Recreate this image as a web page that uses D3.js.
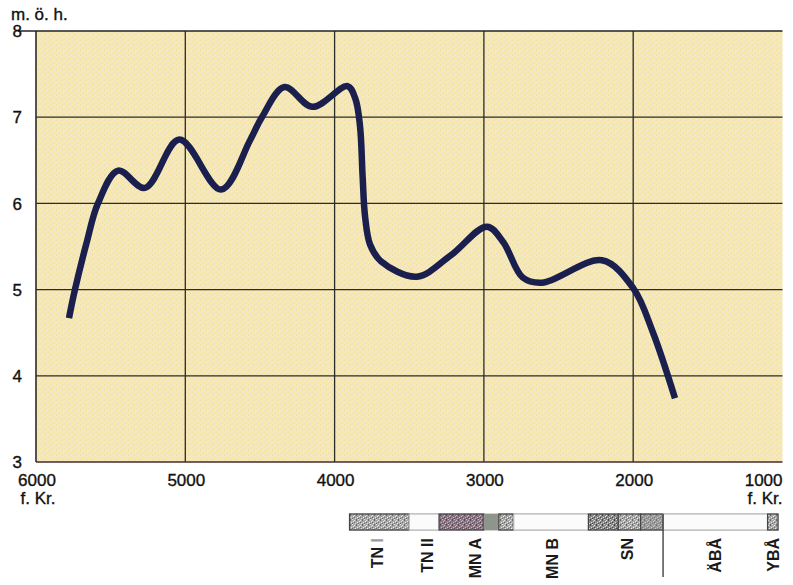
<!DOCTYPE html>
<html>
<head>
<meta charset="utf-8">
<script src="https://cdn.jsdelivr.net/npm/d3@7"></script>
<style>
  html, body { margin: 0; padding: 0; background: #ffffff; }
  svg { display: block; font-family: "Liberation Sans", Arial, sans-serif; }
</style>
</head>
<body>
<svg id="chart" width="793" height="585"></svg>
<script>
// ---- data ----
const years  = [5779, 5739, 5660, 5585, 5450, 5270, 5040, 4760, 4567, 4487, 4336, 4148, 3914, 3862, 3830, 3812, 3796, 3762, 3690, 3450, 3220, 2979, 2870, 2740, 2611, 2209, 2001, 1867, 1720];
const levels = [4.67, 5.00, 5.55, 6.00, 6.38, 6.18, 6.74, 6.16, 6.73, 7.00, 7.35, 7.12, 7.36, 7.22, 6.90, 6.30, 5.85, 5.52, 5.33, 5.15, 5.40, 5.73, 5.55, 5.14, 5.08, 5.34, 5.02, 4.50, 3.74];

const xTicks = [6000, 5000, 4000, 3000, 2000, 1000];
const yTicks = [3, 4, 5, 6, 7, 8];
const yUnit = "m. ö. h.";
const xUnit = "f. Kr.";

// period strip: segment starts / ends (years BC) and kind
const segStart = [3900, 3500, 3300, 3000, 2900, 2800, 2300, 2100, 1950, 1800, 1100];
const segEnd   = [3500, 3300, 3000, 2900, 2800, 2300, 2100, 1950, 1800, 1100, 1030];
const segKind  = ["grey", "white", "purple", "blur", "grey", "white", "dark", "grey", "mid", "white", "grey"];

const periodNames = ["TN I", "TN II", "MN A", "MN B", "SN", "ÄBÅ", "YBÅ"];
const periodPos   = [3716, 3381, 3060, 2544, 2042, 1452, 1064];
const periodDivider = 1800;

// ---- drawing ----
const svg = d3.select("#chart");
const x = d3.scaleLinear().domain([6000, 1000]).range([36, 782.5]);
const y = d3.scaleLinear().domain([3, 8]).range([462, 31]);

const defs = svg.append("defs");
function speckle(id, base, light, dark) {
  const p = defs.append("pattern").attr("id", id)
    .attr("patternUnits", "userSpaceOnUse").attr("width", 6).attr("height", 5);
  p.append("rect").attr("width", 6).attr("height", 5).attr("fill", base);
  [[0,0],[3,2],[1,3],[4,4],[5,1]].forEach(d =>
    p.append("rect").attr("x", d[0]).attr("y", d[1]).attr("width", 1).attr("height", 1).attr("fill", light));
  [[2,0],[0,2],[4,3],[2,4]].forEach(d =>
    p.append("rect").attr("x", d[0]).attr("y", d[1]).attr("width", 1).attr("height", 1).attr("fill", dark));
}
speckle("pgrey", "#a8a8a8", "#e6e6e6", "#6a6a6a");
speckle("ppurple", "#8c7585", "#c9b8c3", "#5a4a56");
speckle("pdark", "#8a8a8a", "#dcdcdc", "#444");
speckle("pmid", "#9a9a9a", "#c4c4c4", "#777");
speckle("pbg", "#f4eabd", "#f6ddcc", "#efe197");

const kindFill = {grey: "url(#pgrey)", white: "#fbfbfb", purple: "url(#ppurple)", blur: "#8e958b", dark: "url(#pdark)", mid: "url(#pmid)"};

// plot background
svg.append("rect")
  .attr("x", x(6000)).attr("y", y(8))
  .attr("width", x(1000) - x(6000)).attr("height", y(3) - y(8))
  .attr("fill", "url(#pbg)");

// grid
svg.append("g").selectAll("line").data(xTicks.filter(d => d !== 1000)).join("line")
  .attr("x1", d => x(d)).attr("x2", d => x(d))
  .attr("y1", y(8)).attr("y2", y(3))
  .attr("stroke", "#2b2b2b").attr("stroke-width", d => d === 6000 ? 1.6 : 1.3);
svg.append("g").selectAll("line").data(yTicks.filter(d => d !== 3 && d !== 8)).join("line")
  .attr("x1", x(6000)).attr("x2", x(1000))
  .attr("y1", d => y(d)).attr("y2", d => y(d))
  .attr("stroke", "#2b2b2b").attr("stroke-width", 1.3);
// top border extends to the label
svg.append("line").attr("x1", 18).attr("x2", x(1000)).attr("y1", y(8)).attr("y2", y(8))
  .attr("stroke", "#222").attr("stroke-width", 1.5);
svg.append("line").attr("x1", x(6000)).attr("x2", x(1000)).attr("y1", y(3)).attr("y2", y(3))
  .attr("stroke", "#4a2a2a").attr("stroke-width", 1.6);

const txt = sel => sel.attr("font-size", 17).attr("fill", "#111").attr("stroke", "#111").attr("stroke-width", 0.35);

// y labels
svg.append("g").selectAll("text").data(yTicks).join("text")
  .attr("x", 22).attr("y", d => y(d)).attr("dy", "0.36em")
  .attr("text-anchor", "end").call(txt)
  .text(d => d);
svg.append("text").attr("x", 11).attr("y", 20).call(txt).text(yUnit);

// x labels
svg.append("g").selectAll("text").data(xTicks).join("text")
  .attr("x", d => d === 1000 ? x(d) : x(d) + 1).attr("y", 486)
  .attr("text-anchor", d => d === 1000 ? "end" : "middle")
  .call(txt).text(d => d);
svg.append("text").attr("x", x(6000) + 2).attr("y", 504).attr("text-anchor", "middle")
  .call(txt).text(xUnit);
svg.append("text").attr("x", x(1000)).attr("y", 504).attr("text-anchor", "end")
  .call(txt).text(xUnit);

// curve
const pts = years.map((d, i) => [d, levels[i]]);
svg.append("path").datum(pts)
  .attr("d", d3.line().x(d => x(d[0])).y(d => y(d[1])).curve(d3.curveCatmullRom.alpha(0.5)))
  .attr("fill", "none").attr("stroke", "#1b1f4e").attr("stroke-width", 6.5)
  .attr("stroke-linejoin", "round").attr("stroke-linecap", "butt");

// period strip
const barTop = 514, barH = 16;
svg.append("rect").attr("x", x(segStart[0])).attr("y", barTop)
  .attr("width", x(segEnd[segEnd.length - 1]) - x(segStart[0])).attr("height", barH)
  .attr("fill", "#fbfbfb").attr("stroke", "#b5b5b5").attr("stroke-width", 1.2);
svg.append("g").selectAll("rect").data(segStart.map((d, i) => i)).join("rect")
  .attr("x", i => x(segStart[i])).attr("y", barTop)
  .attr("width", i => x(segEnd[i]) - x(segStart[i])).attr("height", barH)
  .attr("fill", i => kindFill[segKind[i]])
  .attr("stroke", i => segKind[i] === "white" ? "#bdbdbd" : (segKind[i] === "blur" ? "none" : "#444"))
  .attr("stroke-width", 1.2);
svg.append("line").attr("x1", x(periodDivider)).attr("x2", x(periodDivider))
  .attr("y1", barTop).attr("y2", 577).attr("stroke", "#333").attr("stroke-width", 1.3);

const lab = svg.append("g").selectAll("text").data(periodNames.map((d, i) => i)).join("text")
  .attr("transform", i => `translate(${x(periodPos[i]) + 6},538) rotate(-90)`)
  .attr("text-anchor", "end").attr("font-size", 16).attr("font-weight", "bold").attr("fill", "#1a1a1a");
lab.each(function(i) {
  const t = d3.select(this);
  if (periodNames[i] === "TN I") {
    t.append("tspan").text("TN ");
    t.append("tspan").attr("fill", "#9a9a9a").text("I");
  } else {
    t.text(periodNames[i]);
  }
});
</script>
</body>
</html>
